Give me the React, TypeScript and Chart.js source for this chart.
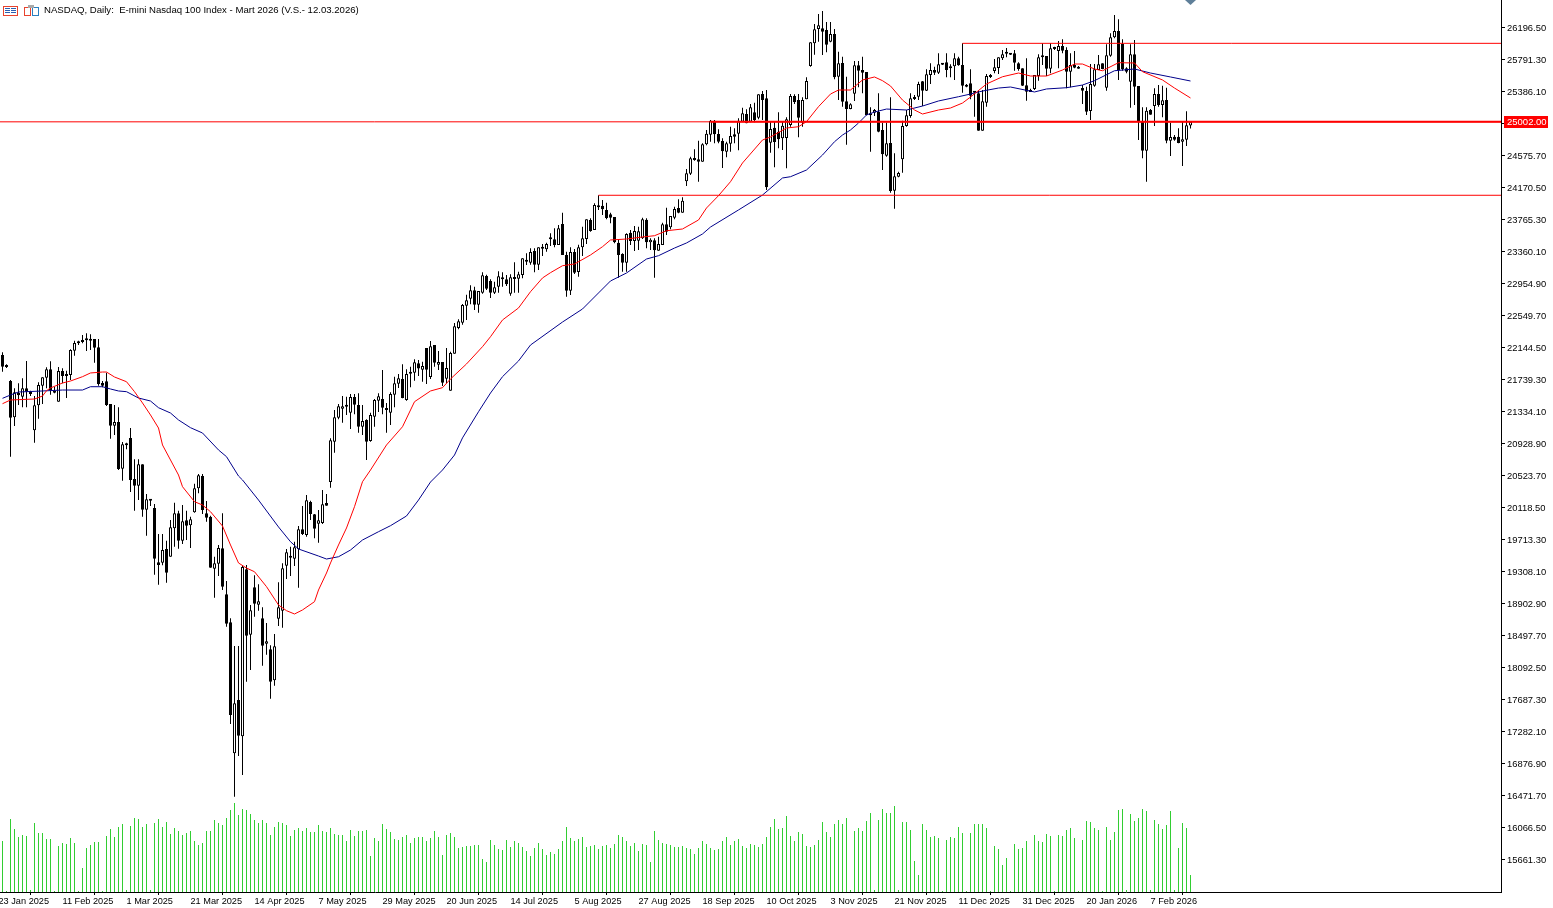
import React, { useEffect, useRef } from 'react';
import { Chart, registerables } from 'chart.js';

Chart.register(...registerables);

const chartTitle = 'NASDAQ, Daily:  E-mini Nasdaq 100 Index - Mart 2026 (V.S.- 12.03.2026)';
const lastPrice = 25002;
const fontFamily = '"Liberation Sans", sans-serif';

// daily candles, oldest first
const opens = [
  22050, 21910, 21720, 21260, 21568, 21522, 21627, 21581, 21096, 21412,
  21661, 21762, 21868, 21598, 21459, 21847, 21809, 21796, 22104, 22214,
  22235, 22235, 22252, 22252, 22147, 21695, 21716, 21429, 21155, 21201,
  20610, 20923, 20998, 20479, 20395, 20665, 20091, 20222, 20112, 19424,
  19420, 19593, 19496, 19855, 20045, 19698, 19956, 19893, 20057, 20361,
  20517, 20045, 20002, 19344, 19407, 19601, 19019, 18664, 17006, 17681,
  17221, 19336, 18508, 19108, 18888, 18715, 18394, 18322, 17930, 18711,
  18812, 19382, 19500, 19471, 19589, 19842, 19770, 20188, 20032, 19914,
  19922, 20176, 20441, 20952, 21256, 21370, 21416, 21319, 21518, 21416,
  21142, 21226, 20961, 21269, 21471, 21492, 21378, 21319, 21547, 21687,
  21746, 21480, 21813, 21826, 21944, 21864, 22138, 21771, 22176, 21927,
  21961, 21750, 21598, 22066, 22391, 22459, 22674, 22763, 22868, 22687,
  22839, 23050, 22987, 22839, 22915, 23033, 23008, 22826, 23012, 23016,
  23063, 23252, 23219, 23366, 23193, 23396, 23388, 23527, 23514, 23442,
  23708, 23316, 22864, 23354, 23100, 23413, 23518, 23759, 23632, 23936,
  23940, 23886, 23831, 23797, 23472, 23328, 23219, 23599, 23493, 23497,
  23527, 23763, 23476, 23502, 23371, 23442, 23704, 23666, 23788, 23911,
  23852, 24249, 24346, 24519, 24527, 24498, 24717, 24839, 25017, 24848,
  24759, 24624, 24725, 24844, 24852, 25004, 25101, 25004, 25122, 25055,
  25354, 25300, 24738, 24928, 24877, 24793, 24797, 24962, 25329, 25278,
  24991, 25287, 25709, 25996, 26177, 26186, 26165, 26017, 26114, 25574,
  25747, 25262, 25165, 25359, 25717, 25658, 25633, 25084, 25118, 25131,
  24899, 24574, 24734, 24130, 24308, 24527, 24949, 25076, 25291, 25321,
  25515, 25397, 25595, 25658, 25624, 25743, 25755, 25679, 25705, 25806,
  25722, 25473, 25490, 25371, 25363, 24890, 25245, 25595, 25646, 25684,
  25806, 25882, 25869, 25869, 25743, 25679, 25464, 25405, 25418, 25582,
  25819, 25836, 25675, 25924, 25899, 25962, 25912, 25637, 25722, 25701,
  25430, 25392, 25139, 25460, 25658, 25743, 25435, 25840, 26072, 26152,
  25988, 25679, 25511, 25857, 25456, 25004, 24637, 25152, 25202, 25354,
  25215, 25278, 24764, 24814, 24814, 24751, 24776, 24954,
];

const closes = [
  21902, 21897, 21256, 21577, 21539, 21627, 21585, 21556, 21412, 21670,
  21767, 21868, 21606, 21573, 21847, 21784, 21784, 22113, 22201, 22197,
  22214, 22239, 22231, 22142, 21682, 21661, 21416, 21155, 21201, 20606,
  20918, 20906, 20467, 20395, 20665, 20091, 20222, 20205, 19471, 19390,
  19580, 19293, 19867, 20045, 19698, 19943, 19888, 19969, 20361, 20526,
  20087, 19990, 19357, 19412, 19606, 19116, 18648, 17491, 17639, 17229,
  19365, 18496, 18816, 18901, 18930, 18369, 18424, 17913, 18361, 18854,
  19348, 19551, 19483, 19614, 19842, 19783, 20209, 20036, 19850, 19956,
  20159, 20142, 20969, 21260, 21400, 21400, 21395, 21518, 21421, 21142,
  21214, 20952, 21290, 21480, 21526, 21383, 21353, 21556, 21691, 21754,
  21505, 21809, 21822, 21957, 21877, 21910, 21864, 22159, 21952, 21961,
  21699, 21885, 22075, 22413, 22476, 22683, 22742, 22868, 22687, 22860,
  23058, 22889, 22839, 22906, 23046, 23008, 22944, 23033, 23020, 23071,
  23274, 23231, 23354, 23193, 23413, 23409, 23455, 23514, 23442, 23653,
  23316, 22864, 23354, 23092, 23413, 23527, 23767, 23620, 23949, 23919,
  23894, 23784, 23789, 23476, 23316, 23219, 23582, 23493, 23620, 23615,
  23767, 23476, 23510, 23375, 23455, 23704, 23611, 23810, 23898, 23852,
  24004, 24350, 24540, 24527, 24498, 24717, 24852, 25017, 24844, 24751,
  24628, 24730, 24823, 24814, 25017, 25110, 24983, 25186, 25025, 25350,
  25278, 24173, 24911, 24747, 24780, 24953, 25034, 25329, 25253, 25055,
  25278, 25519, 26009, 26173, 26224, 26144, 25979, 26114, 25565, 25743,
  25257, 25165, 25224, 25717, 25650, 25624, 25089, 25093, 25152, 24877,
  24590, 24730, 24126, 24312, 24354, 24949, 25084, 25300, 25304, 25481,
  25397, 25603, 25658, 25624, 25730, 25726, 25658, 25705, 25806, 25717,
  25460, 25447, 25333, 25384, 24890, 25262, 25582, 25570, 25692, 25819,
  25857, 25865, 25853, 25751, 25671, 25460, 25384, 25380, 25595, 25819,
  25844, 25675, 25933, 25937, 25962, 25903, 25637, 25722, 25688, 25675,
  25397, 25131, 25481, 25667, 25730, 25671, 25844, 26072, 26152, 25658,
  25667, 25637, 25857, 25447, 25004, 24637, 25143, 25093, 25354, 25215,
  25274, 24764, 24810, 24776, 24734, 24780, 24958, 25004,
];

const highs = [
  22083, 21931, 21733, 21627, 21691, 21754, 21973, 21598, 21530, 21703,
  21767, 21893, 21969, 21648, 21898, 21881, 21851, 22121, 22231, 22231,
  22303, 22324, 22311, 22252, 22252, 21720, 21826, 21429, 21416, 21387,
  20948, 20939, 21125, 20728, 20728, 20665, 20289, 20222, 20163, 19783,
  19783, 19698, 19960, 20180, 20078, 20150, 20078, 20002, 20420, 20543,
  20543, 20201, 20015, 19496, 19644, 20045, 19188, 18715, 18365, 18365,
  19390, 19390, 18884, 19260, 19146, 18854, 18656, 18373, 18517, 19171,
  19412, 19593, 19623, 19686, 19884, 20138, 20277, 20205, 20036, 20087,
  20340, 20289, 20994, 21353, 21429, 21530, 21522, 21556, 21556, 21564,
  21416, 21235, 21319, 21492, 21564, 21860, 21442, 21577, 21775, 21809,
  21931, 21868, 21902, 21995, 21986, 21965, 22138, 22227, 22176, 22100,
  21961, 22138, 22092, 22455, 22501, 22695, 22813, 22932, 22915, 22860,
  23096, 23067, 23008, 22978, 23109, 23096, 23062, 23071, 23223, 23105,
  23274, 23337, 23400, 23400, 23413, 23455, 23472, 23590, 23653, 23696,
  23852, 23358, 23413, 23392, 23447, 23674, 23767, 23780, 23970, 24071,
  24012, 23978, 23852, 23797, 23518, 23337, 23590, 23632, 23683, 23674,
  23788, 23780, 23527, 23527, 23548, 23725, 23915, 23810, 23928, 24021,
  24046, 24405, 24561, 24654, 24763, 24730, 24899, 25025, 25025, 24907,
  24793, 24751, 24941, 24920, 25046, 25181, 25160, 25228, 25245, 25350,
  25392, 25405, 25004, 25004, 25122, 25004, 25059, 25354, 25350, 25354,
  25312, 25565, 26009, 26241, 26367, 26405, 26266, 26266, 26177, 25890,
  25827, 25574, 25236, 25772, 25772, 25827, 25633, 25186, 25164, 25363,
  24991, 24991, 25312, 24603, 24371, 25017, 25152, 25363, 25342, 25511,
  25519, 25667, 25743, 25700, 25869, 25743, 25869, 25730, 25869, 25827,
  25996, 25481, 25667, 25392, 25405, 25405, 25608, 25608, 25798, 25819,
  25912, 25937, 25869, 25912, 25755, 25679, 25806, 25422, 25595, 25857,
  25996, 25836, 25996, 25954, 26026, 26047, 25945, 25869, 25899, 25709,
  25468, 25447, 25734, 25734, 25848, 25743, 25983, 26123, 26355, 26300,
  26047, 25692, 25983, 26038, 25456, 25186, 25186, 25165, 25426, 25468,
  25460, 25435, 24991, 24835, 24920, 25004, 25135, 25013,
];

const lows = [
  21838, 21885, 20762, 21150, 21416, 21387, 21387, 21530, 20939, 21243,
  21429, 21627, 21547, 21564, 21459, 21691, 21505, 21733, 22041, 22176,
  22197, 22100, 22113, 21952, 21661, 21640, 21404, 20990, 21037, 20593,
  20458, 20855, 20315, 20078, 20213, 20002, 19762, 20137, 19268, 19141,
  19386, 19167, 19496, 19623, 19597, 19656, 19707, 19606, 20053, 20298,
  20036, 19939, 19357, 18977, 19251, 19074, 18610, 17377, 16457, 16972,
  16731, 17913, 18061, 18736, 18812, 18116, 18255, 17698, 17862, 18618,
  18597, 19213, 19251, 19378, 19103, 19770, 19749, 19960, 19728, 19673,
  19910, 20142, 20370, 20813, 21235, 21193, 21290, 21113, 21298, 21066,
  21036, 20720, 20952, 21142, 21328, 21298, 21066, 21163, 21387, 21632,
  21501, 21471, 21640, 21725, 21784, 21712, 21682, 21746, 21902, 21860,
  21657, 21691, 21598, 22066, 22375, 22434, 22493, 22691, 22619, 22586,
  22826, 22873, 22771, 22822, 22839, 22915, 22923, 22801, 22839, 22839,
  23020, 23189, 23193, 23096, 23126, 23303, 23358, 23430, 23413, 23442,
  23316, 22788, 22809, 23075, 23041, 23303, 23455, 23611, 23632, 23886,
  23822, 23767, 23717, 23464, 23029, 23105, 23105, 23442, 23366, 23379,
  23518, 23400, 23379, 23029, 23371, 23442, 23569, 23641, 23767, 23843,
  23852, 24189, 24329, 24510, 24244, 24498, 24704, 24751, 24730, 24730,
  24417, 24552, 24624, 24730, 24641, 25004, 24983, 24996, 24996, 25034,
  25025, 24139, 24611, 24426, 24666, 24645, 24413, 24941, 25228, 24806,
  24941, 25287, 25701, 25852, 26017, 25848, 25882, 26009, 25540, 25278,
  25194, 24713, 25160, 25266, 25439, 25363, 25084, 24624, 25076, 24869,
  24392, 24561, 24105, 23902, 24299, 24358, 24941, 25055, 25278, 25278,
  25202, 25392, 25481, 25595, 25608, 25722, 25565, 25565, 25532, 25713,
  25371, 25439, 25287, 25067, 24890, 24890, 25194, 25557, 25616, 25608,
  25785, 25819, 25848, 25650, 25650, 25456, 25270, 25380, 25405, 25523,
  25722, 25582, 25616, 25912, 25679, 25869, 25426, 25439, 25679, 25675,
  25228, 25089, 25025, 25447, 25658, 25667, 25397, 25827, 26059, 25532,
  25650, 25616, 25181, 25215, 24772, 24540, 24244, 25093, 24949, 25194,
  25059, 24730, 24569, 24764, 24730, 24443, 24696, 24916,
];

// tick volume, in thousands of contracts (rough reading, no scale on the chart)
const volumes = [
  51, 1, 73, 63, 55, 57, 56, 2, 69, 59, 59, 53, 53, 1, 46, 49, 48, 54, 49, 1,
  24, 44, 47, 50, 50, 1, 56, 63, 55, 65, 68, 2, 66, 74, 73, 65, 68, 2, 69, 73,
  65, 70, 58, 64, 61, 57, 59, 61, 51, 47, 49, 61, 61, 72, 69, 67, 74, 82, 89, 77,
  83, 82, 78, 72, 69, 72, 69, 57, 65, 70, 69, 67, 56, 62, 64, 61, 64, 60, 60, 67,
  61, 60, 64, 58, 57, 57, 51, 62, 56, 61, 61, 62, 36, 54, 51, 68, 63, 60, 53, 52,
  55, 57, 49, 54, 55, 55, 51, 54, 61, 55, 37, 57, 59, 55, 44, 45, 46, 46, 47, 47,
  33, 30, 52, 47, 43, 42, 52, 45, 51, 49, 45, 41, 36, 44, 49, 43, 37, 40, 38, 43,
  51, 65, 54, 51, 53, 55, 45, 46, 47, 43, 46, 47, 44, 48, 57, 55, 51, 46, 49, 41,
  48, 47, 30, 61, 52, 49, 48, 47, 45, 45, 46, 44, 43, 38, 44, 51, 48, 44, 42, 43,
  51, 55, 47, 51, 53, 46, 44, 48, 47, 45, 48, 55, 65, 73, 63, 64, 76, 56, 51, 60,
  58, 46, 45, 47, 52, 70, 60, 55, 68, 72, 68, 74, 2, 61, 64, 61, 71, 79, 2, 72,
  83, 79, 79, 86, 2, 70, 70, 62, 31, 17, 68, 62, 55, 56, 54, 1, 52, 55, 54, 65,
  59, 1, 59, 68, 68, 68, 64, 1, 46, 43, 27, 34, 1, 48, 43, 44, 51, 1, 57, 51,
  50, 58, 56, 1, 57, 56, 62, 64, 54, 1, 52, 71, 70, 64, 62, 1, 65, 52, 60, 82,
  83, 2, 78, 71, 74, 83, 81, 2, 72, 68, 63, 67, 81, 2, 44, 69, 64, 17,
];

// red moving average, read at these bars
const redBars = [
  0, 2, 8, 10, 11, 12, 15, 17, 20, 22, 25, 26, 28, 31, 33, 35, 37, 39, 40, 42,
  44, 45, 48, 50, 52, 55, 57, 59, 61, 63, 66, 69, 71, 73, 75, 78, 79, 81, 82, 84,
  86, 88, 90, 92, 96, 100, 103, 107, 110, 112, 116, 120, 122, 125, 129, 132, 135, 137, 140, 143,
  147, 150, 152, 156, 160, 163, 166, 170, 174, 176, 179, 182, 185, 190, 192, 196, 199, 201, 204, 207,
  209, 212, 215, 218, 220, 222, 225, 228, 230, 234, 237, 240, 242, 246, 250, 254, 257, 261, 265, 268,
  270, 273, 275, 279, 283, 285, 290, 293, 297,
];
const redValues = [
  21433, 21480, 21492, 21530, 21597, 21632, 21695, 21720, 21775, 21822, 21834, 21834, 21771, 21711, 21585, 21442, 21290, 21125, 20910, 20720,
  20530, 20382, 20192, 20150, 20065, 19884, 19644, 19416, 19352, 19305, 19116, 18884, 18812, 18770, 18821, 18926, 19074, 19289, 19416, 19644,
  19859, 20129, 20445, 20593, 20910, 21141, 21458, 21594, 21636, 21746, 21936, 22155, 22281, 22493, 22645, 22851, 23025, 23092, 23180, 23202,
  23316, 23421, 23506, 23518, 23544, 23560, 23623, 23645, 23759, 23911, 24067, 24244, 24481, 24772, 24810, 24924, 24940, 25004, 25194, 25354,
  25405, 25405, 25532, 25570, 25523, 25456, 25278, 25152, 25101, 25152, 25177, 25240, 25316, 25481, 25573, 25620, 25582, 25582, 25658, 25734,
  25734, 25671, 25649, 25751, 25747, 25637, 25532, 25430, 25304,
];

// blue moving average, read at these bars
const blueBars = [
  0, 2, 4, 10, 15, 20, 22, 25, 27, 29, 31, 34, 37, 39, 42, 44, 47, 50, 54, 56,
  59, 60, 64, 69, 72, 74, 79, 81, 84, 87, 90, 94, 97, 101, 104, 107, 110, 113, 115, 119,
  122, 125, 129, 132, 140, 145, 149, 152, 156, 161, 164, 168, 171, 175, 177, 184, 190, 195, 197, 201,
  205, 208, 210, 212, 214, 216, 218, 221, 226, 230, 234, 239, 242, 245, 249, 252, 258, 261, 266, 270,
  273, 278, 283, 287, 292, 297,
];
const blueValues = [
  21501, 21543, 21581, 21594, 21606, 21606, 21648, 21648, 21619, 21594, 21585, 21505, 21467, 21382, 21315, 21227, 21129, 21062, 20847, 20762,
  20517, 20467, 20213, 19872, 19685, 19593, 19504, 19466, 19495, 19580, 19707, 19812, 19888, 20011, 20213, 20441, 20593, 20783, 21000, 21331,
  21568, 21775, 21974, 22176, 22467, 22632, 22835, 22987, 23088, 23265, 23307, 23404, 23468, 23582, 23670, 23886, 24075, 24291, 24307, 24392,
  24582, 24750, 24835, 24899, 24987, 25089, 25126, 25164, 25152, 25202, 25266, 25320, 25354, 25392, 25430, 25443, 25380, 25418, 25434, 25468,
  25523, 25649, 25671, 25620, 25570, 25519,
];

const priceTicks = [
  26196.5, 25791.3, 25386.1, 24980.9, 24575.7, 24170.5, 23765.3, 23360.1, 22954.9, 22549.7,
  22144.5, 21739.3, 21334.1, 20928.9, 20523.7, 20118.5, 19713.3, 19308.1, 18902.9, 18497.7,
  18092.5, 17687.3, 17282.1, 16876.9, 16471.7, 16066.5, 15661.3,
];

// one date label every 16 bars, the first one sits just off the left edge
const dateLabels = [
  '23 Jan 2025', '11 Feb 2025', '1 Mar 2025', '21 Mar 2025', '14 Apr 2025', '7 May 2025', '29 May 2025',
  '20 Jun 2025', '14 Jul 2025', '5 Aug 2025', '27 Aug 2025', '18 Sep 2025', '10 Oct 2025', '3 Nov 2025',
  '21 Nov 2025', '11 Dec 2025', '31 Dec 2025', '20 Jan 2026', '7 Feb 2026',
];
const dateStep = 16;
const dateFirstBar = -1;

// horizontal levels: price and the bar they start from
const thinLevels = [
  { price: 25996, fromBar: 240 },
  { price: 24072, fromBar: 149 },
  { price: lastPrice, fromBar: -1 },
];
const thickLevelFromBar = 177;

const xMin = -0.625;
const xMax = xMin + 1501 / 4;
const yMax = 26544.7;
const yMin = yMax - 892 * 12.6625;

const chrome = {
  id: 'chrome',
  afterDraw(chart: any) {
    const { ctx } = chart;
    const yPix = chart.scales.y.getPixelForValue(lastPrice);
    ctx.save();

    // price tag on the axis
    ctx.fillStyle = '#ff0000';
    ctx.fillRect(1504, Math.round(yPix) - 6, 44, 12);
    ctx.fillStyle = '#ffffff';
    ctx.font = `9.5px ${fontFamily}`;
    ctx.textAlign = 'left';
    ctx.textBaseline = 'middle';
    ctx.fillText(lastPrice.toFixed(2), 1507, yPix + 0.5);

    // title
    ctx.fillStyle = '#000000';
    ctx.font = `9.6px ${fontFamily}`;
    ctx.fillText(chartTitle, 44, 10.5);

    // first icon, a little table
    ctx.strokeStyle = '#e8432e';
    ctx.lineWidth = 1;
    ctx.strokeRect(3.5, 6.5, 14, 9);
    ctx.fillStyle = '#2a5fb0';
    for (const row of [8, 10, 12]) {
      ctx.fillRect(5, row, 5, 1);
      ctx.fillRect(11, row, 5, 1);
    }

    // second icon, two sheets
    ctx.strokeStyle = '#e8432e';
    ctx.strokeRect(24.5, 7.5, 6, 8);
    ctx.strokeStyle = '#2a7fc0';
    ctx.strokeRect(32.5, 7.5, 6, 8);
    ctx.fillStyle = '#a9a9a9';
    ctx.fillRect(28, 5, 6, 3);

    // marker cut off by the top edge
    ctx.fillStyle = '#5f7f99';
    ctx.beginPath();
    ctx.moveTo(1185, 0);
    ctx.lineTo(1196, 0);
    ctx.lineTo(1190.5, 5);
    ctx.closePath();
    ctx.fill();
    ctx.restore();
  },
};

const App: React.FC = () => {
  const canvasRef = useRef<HTMLCanvasElement>(null);

  useEffect(() => {
    if (!canvasRef.current) return;

    const bars = opens.map((_, i) => i);
    const bodyColors = bars.map((i) => (closes[i] >= opens[i] ? '#ffffff' : '#000000'));
    const levelDatasets = thinLevels.map((level, i) => ({
      type: 'line',
      data: [
        { x: level.fromBar, y: level.price },
        { x: xMax, y: level.price },
      ],
      borderColor: '#ff0000',
      borderWidth: 1,
      pointRadius: 0,
      order: 3 + i,
    }));

    const chart = new Chart(canvasRef.current, {
      type: 'bar',
      data: {
        datasets: [
          {
            type: 'line',
            data: [
              { x: thickLevelFromBar, y: lastPrice },
              { x: xMax, y: lastPrice },
            ],
            borderColor: '#ff0000',
            borderWidth: 2,
            pointRadius: 0,
            order: 1,
          },
          ...levelDatasets,
          {
            type: 'line',
            data: redBars.map((b, i) => ({ x: b, y: redValues[i] })),
            borderColor: '#ff0000',
            borderWidth: 1,
            pointRadius: 0,
            order: 7,
          },
          {
            type: 'line',
            data: blueBars.map((b, i) => ({ x: b, y: blueValues[i] })),
            borderColor: '#00008b',
            borderWidth: 1,
            pointRadius: 0,
            order: 8,
          },
          {
            data: bars.map((i) => ({ x: i, y: [Math.min(opens[i], closes[i]), Math.max(opens[i], closes[i])] })),
            backgroundColor: bodyColors,
            borderColor: '#000000',
            borderWidth: 1,
            borderSkipped: false,
            inflateAmount: 0,
            minBarLength: 2,
            maxBarThickness: 3,
            barPercentage: 1,
            categoryPercentage: 1,
            grouped: false,
            order: 9,
          },
          {
            data: bars.map((i) => ({ x: i, y: [lows[i], highs[i]] })),
            backgroundColor: '#000000',
            inflateAmount: 0,
            maxBarThickness: 1,
            barPercentage: 1,
            categoryPercentage: 1,
            grouped: false,
            order: 10,
          },
          {
            data: bars.map((i) => ({ x: i, y: volumes[i] })),
            yAxisID: 'yVol',
            backgroundColor: '#32cd32',
            inflateAmount: 0,
            maxBarThickness: 1,
            barPercentage: 1,
            categoryPercentage: 1,
            grouped: false,
            order: 11,
          },
        ] as any,
      },
      plugins: [chrome],
      options: {
        responsive: false,
        animation: false,
        devicePixelRatio: 1,
        layout: { padding: 0 },
        plugins: { legend: { display: false }, tooltip: { enabled: false } },
        scales: {
          x: {
            type: 'linear',
            offset: false,
            min: xMin,
            max: xMax,
            afterBuildTicks: (scale: any) => {
              scale.ticks = dateLabels.map((_, i) => ({ value: dateFirstBar + i * dateStep }));
            },
            afterFit: (scale: any) => {
              scale.height = 16;
              scale.paddingLeft = 0;
              scale.paddingRight = 0;
            },
            ticks: {
              autoSkip: false,
              maxRotation: 0,
              align: 'start',
              padding: 1,
              color: '#000000',
              font: { family: fontFamily, size: 9.2 },
              callback: (value: any) => dateLabels[(Number(value) - dateFirstBar) / dateStep],
            },
            grid: { drawOnChartArea: false, tickLength: 3, tickColor: '#000000' },
            border: { color: '#000000', width: 1 },
          },
          y: {
            position: 'right',
            min: yMin,
            max: yMax,
            afterBuildTicks: (scale: any) => {
              scale.ticks = priceTicks.map((value) => ({ value }));
            },
            afterFit: (scale: any) => {
              scale.width = 52;
              scale.paddingTop = 0;
              scale.paddingBottom = 0;
            },
            ticks: {
              autoSkip: false,
              padding: 2,
              labelOffset: 1,
              color: '#000000',
              font: { family: fontFamily, size: 9.4 },
              callback: (value: any) => Number(value).toFixed(2),
            },
            grid: { drawOnChartArea: false, tickLength: 4, tickColor: '#000000' },
            border: { color: '#000000', width: 1 },
          },
          yVol: { display: false, min: 0, max: 892 },
        },
      } as any,
    });

    return () => chart.destroy();
  }, []);

  return (
    <div style={{ position: 'fixed', left: 0, top: 0, width: 1553, height: 908, background: '#ffffff' }}>
      <canvas ref={canvasRef} width={1553} height={908} style={{ display: 'block' }}></canvas>
    </div>
  );
};

export default App;
